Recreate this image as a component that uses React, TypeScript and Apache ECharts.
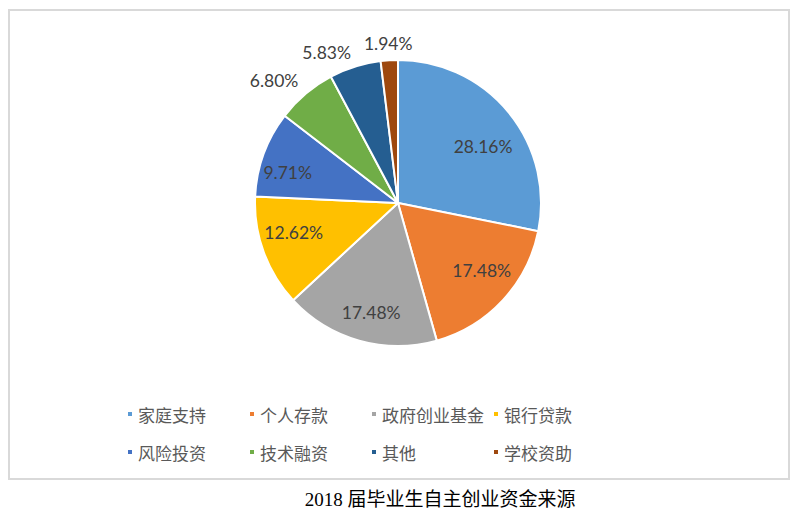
import React, { useEffect, useRef } from "react";
import * as echarts from "echarts";

const categories = ["家庭支持", "个人存款", "政府创业基金", "银行贷款", "风险投资", "技术融资", "其他", "学校资助"];
const values = [28.16, 17.48, 17.48, 12.62, 9.71, 6.8, 5.83, 1.94];
const colors = ["#5B9BD5", "#ED7D31", "#A5A5A5", "#FFC000", "#4472C4", "#70AD47", "#255E91", "#9E480E"];
const outsideLabelCategories = ["技术融资", "其他", "学校资助"];
const titleText = "2018 届毕业生自主创业资金来源";

const CENTER = [398, 203];
const fmt = (p: any) => Number(p.value).toFixed(2) + "%";

export default function App() {
  const ref = useRef<HTMLDivElement>(null);
  useEffect(() => {
    document.body.style.margin = "0";
    const chart = echarts.init(ref.current!, undefined, { renderer: "svg" });
    // small label nudges (Excel best-fit placement), px
    const labelNudge: Record<string, number[]> = {
      家庭支持: [0, 13],
      个人存款: [3, -7],
      政府创业基金: [3, 4],
      银行贷款: [-1, -8],
      风险投资: [-7, 7],
      技术融资: [-20, 0],
      其他: [-23, 3],
      学校资助: [0, 1],
    };
    const labelStyle = {
      color: "#404040",
      fontSize: 17.5,
      fontFamily: "Lato, 'Noto Sans', sans-serif",
      formatter: fmt,
    };
    chart.setOption({
      animation: false,
      color: colors,
      legend: {
        left: 126,
        top: 399,
        width: 480,
        padding: 0,
        itemWidth: 6,
        itemHeight: 6,
        itemGap: 8,
        icon: "rect",
        selectedMode: false,
        data: categories,
        textStyle: {
          color: "#595959",
          fontSize: 17,
          fontFamily: "'Noto Sans CJK SC', sans-serif",
          width: 102,
          lineHeight: 30,
        },
      },
      graphic: [
        {
          type: "rect",
          shape: { x: 9, y: 10, width: 780, height: 469 },
          style: { fill: "none", stroke: "#d9d9d9", lineWidth: 2 },
          silent: true,
        },
        {
          type: "text",
          x: 440,
          y: 499,
          style: {
            text: titleText,
            fill: "#000",
            fontSize: 19,
            fontFamily: "'Liberation Serif', 'Noto Sans CJK SC', serif",
            textAlign: "center",
            textVerticalAlign: "middle",
          },
          silent: true,
        },
      ],
      series: [
        {
          type: "pie",
          center: CENTER,
          radius: 143,
          startAngle: 90,
          clockwise: true,
          avoidLabelOverlap: false,
          label: { ...labelStyle, position: "outside", distanceToLabelLine: 0 },
          labelLine: { show: false, length: 18, length2: 0 },
          labelLayout: () => ({ align: "center", verticalAlign: "middle" }),
          itemStyle: { borderColor: "#ffffff", borderWidth: 2 },
          emphasis: { disabled: true },
          data: categories.map((name, i) => ({
            name,
            value: values[i],
            label: { show: outsideLabelCategories.includes(name), offset: labelNudge[name] },
          })),
        },
        {
          type: "pie",
          center: CENTER,
          radius: [71, 143],
          startAngle: 90,
          clockwise: true,
          silent: true,
          legendHoverLink: false,
          itemStyle: { color: "rgba(0,0,0,0)", borderWidth: 0 },
          label: { ...labelStyle, position: "inside" },
          labelLine: { show: false },
          emphasis: { disabled: true },
          data: categories.map((name, i) => ({
            name,
            value: values[i],
            label: { show: !outsideLabelCategories.includes(name), offset: labelNudge[name] },
          })),
        },
      ],
    });
    return () => chart.dispose();
  }, []);
  return <div ref={ref} style={{ width: 797, height: 511 }} />;
}
